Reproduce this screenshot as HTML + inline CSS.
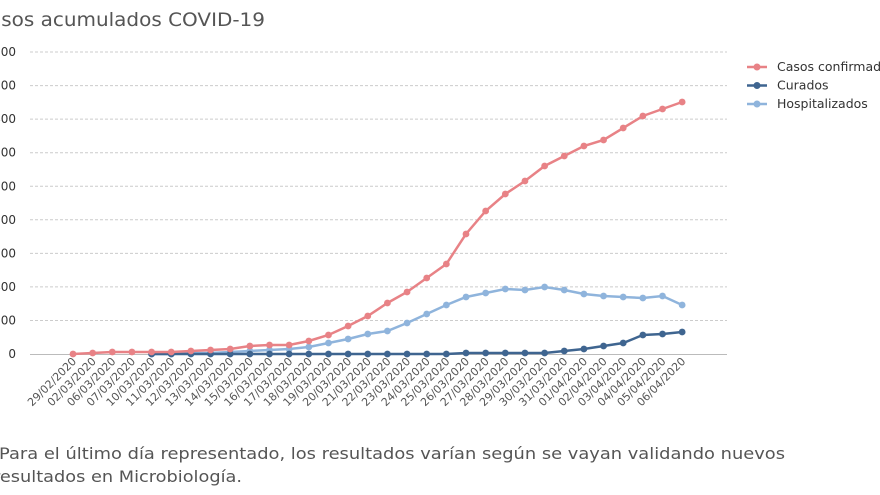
<!DOCTYPE html>
<html><head><meta charset="utf-8"><style>
html,body{margin:0;padding:0;background:#fff;width:880px;height:495px;overflow:hidden}
svg{display:block}
</style></head><body>
<svg id="s" width="880" height="495" xmlns="http://www.w3.org/2000/svg" font-family="DejaVu Sans, Liberation Sans, sans-serif"></svg>
<script>
var s=document.getElementById('s');var h='';
h+='<text x="-25" y="26" font-size="19" fill="#555" textLength="290" lengthAdjust="spacingAndGlyphs">Casos acumulados COVID-19</text>';
for(var k=0;k<10;k++){var y=354-k*33.55;
 if(k>0)h+='<line x1="30" x2="727" y1="'+y+'" y2="'+y+'" stroke="#ccc" stroke-dasharray="3,2"/>';
 h+='<text x="16" y="'+(y+4)+'" font-size="12" fill="#333" text-anchor="end">'+(k*200)+'</text>';}
h+='<line x1="30" x2="727" y1="354.5" y2="354.5" stroke="#bbb"/>';
var L=["29/02","02/03","06/03","07/03","10/03","11/03","12/03","13/03","14/03","15/03","16/03","17/03","18/03","19/03","20/03","21/03","22/03","23/03","24/03","25/03","26/03","27/03","28/03","29/03","30/03","31/03","01/04","02/04","03/04","04/04","05/04","06/04"];
function X(i){return 73+19.65*i}
L.forEach(function(l,i){h+='<text transform="translate('+(X(i)+4)+',362) rotate(-45)" font-size="11" fill="#555" text-anchor="end">'+l+'/2020</text>';});
var red=[354,353,352,352,352,352,351,350,349,346,345,345,341,335,326,316,303,292,278,264,234,211,194,181,166,156,146,140,128,116,109,102];
var hosp=[null,null,null,null,354,354,353,353,352,351,350,349,347,343,339,334,331,323,314,305,297,293,289,290,287,290,294,296,297,298,296,305];
var cur=[null,null,null,null,354,354,354,354,354,354,354,354,354,354,354,354,354,354,354,354,353,353,353,353,353,351,349,346,343,335,334,332];
function ser(d,c){var p='',m='';d.forEach(function(v,i){if(v==null)return;p+=(p?'L':'M')+X(i)+','+v;m+='<circle cx="'+X(i)+'" cy="'+v+'" r="3.4" fill="'+c+'"/>';});
 return '<path d="'+p+'" fill="none" stroke="'+c+'" stroke-width="2.5"/>'+m;}
h+=ser(hosp,'#8fb4dc')+ser(cur,'#3f6590')+ser(red,'#e88286');
var lg=[['Casos confirmados','#e88286'],['Curados','#3f6590'],['Hospitalizados','#8fb4dc']];
lg.forEach(function(g,i){var y=67+i*18.5;h+='<line x1="747" x2="767" y1="'+y+'" y2="'+y+'" stroke="'+g[1]+'" stroke-width="2.5"/><circle cx="757" cy="'+y+'" r="3.5" fill="'+g[1]+'"/><text x="777" y="'+(y+4)+'" font-size="12.5" fill="#333">'+g[0]+'</text>';});
h+='<text x="-1" y="459" font-size="16" fill="#555" textLength="786" lengthAdjust="spacingAndGlyphs">Para el último día representado, los resultados varían según se vayan validando nuevos</text>';
h+='<text x="-7" y="482" font-size="16" fill="#555" textLength="249" lengthAdjust="spacingAndGlyphs">resultados en Microbiología.</text>';
s.innerHTML=h;
</script>
</body></html>
